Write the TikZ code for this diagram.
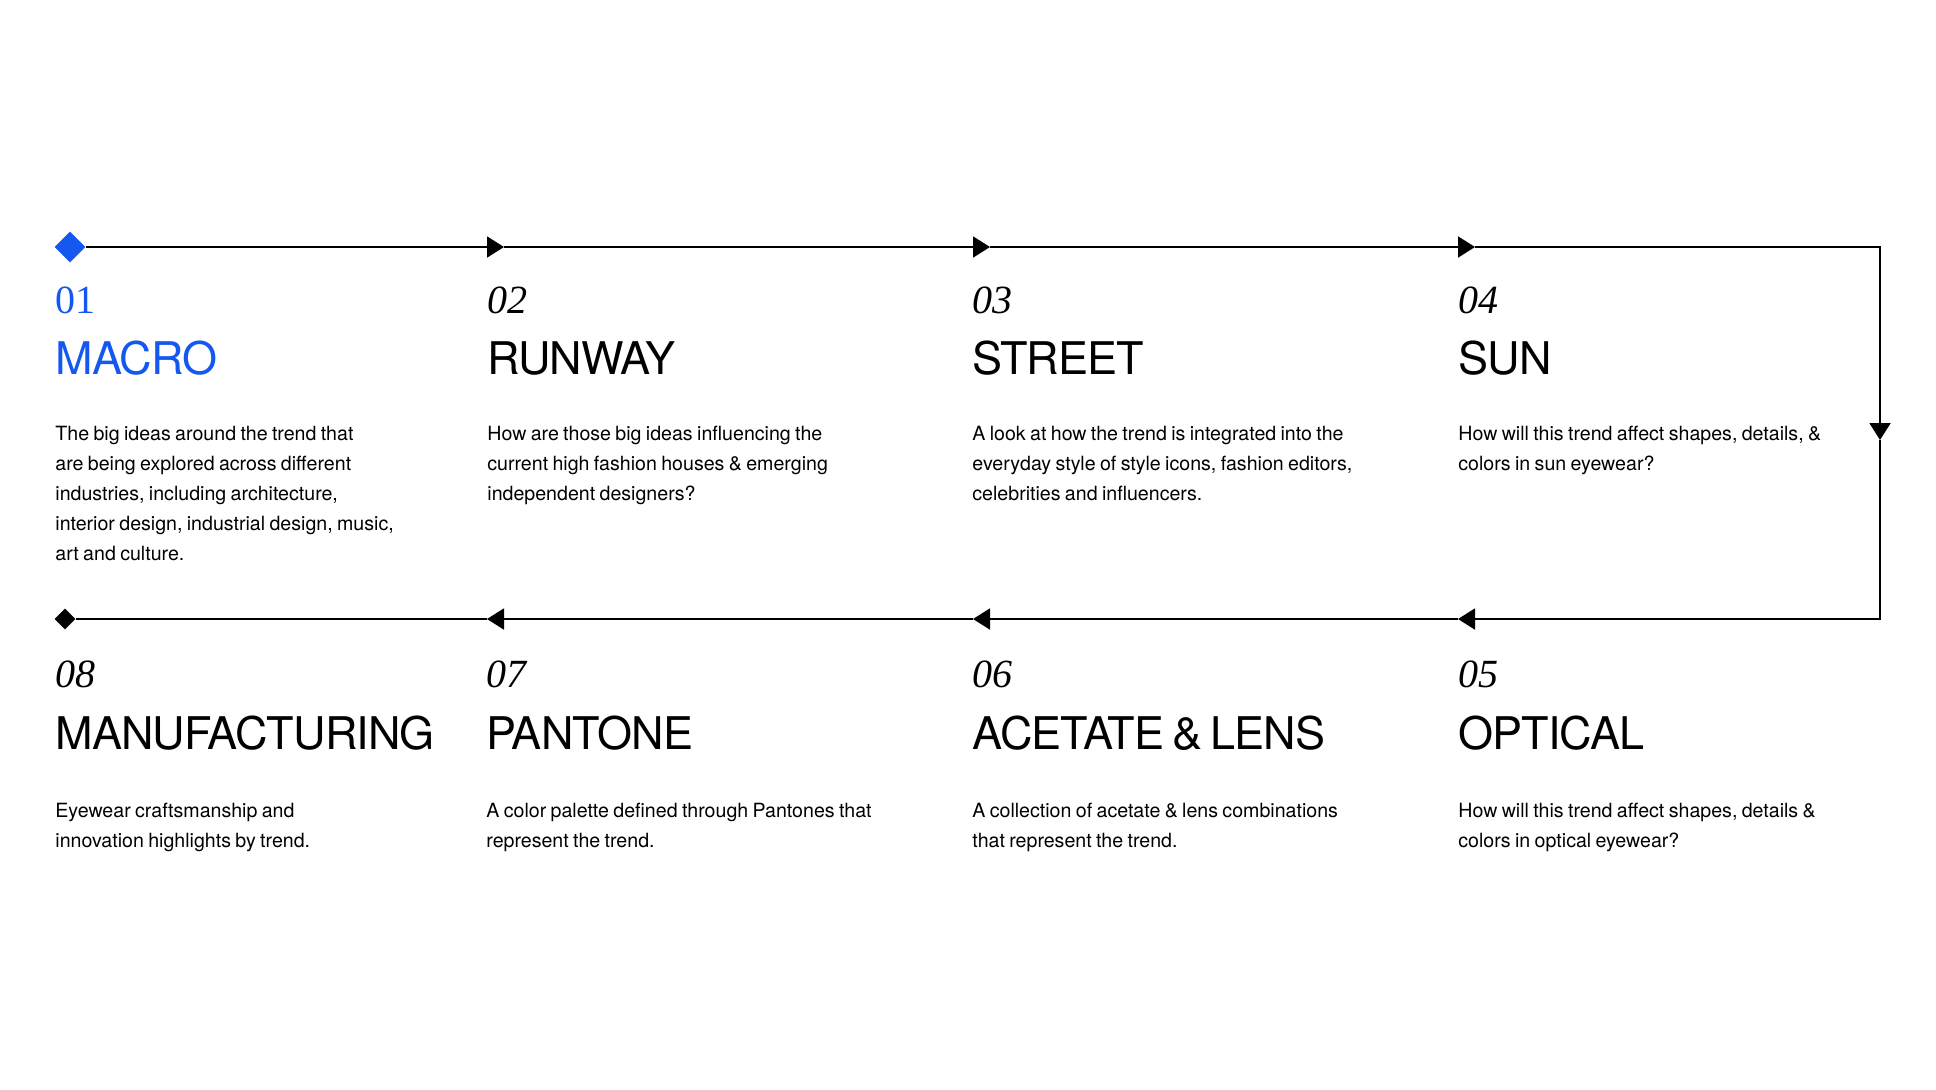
\documentclass[tikz,border=0pt]{standalone}
\usepackage{fontspec}
\setsansfont{TeX Gyre Heros}
\newfontfamily\numfont{Liberation Serif}
\newfontfamily\titlefont{TeX Gyre Heros}[LetterSpace=-2,WordSpace=0.7]
\newfontfamily\bodyfont{TeX Gyre Heros}[WordSpace=0.8]
\usetikzlibrary{arrows.meta,shapes.geometric}
\definecolor{macroblue}{RGB}{20,88,240}

\begin{document}
\begin{tikzpicture}[x=0.5pt,y=-0.5pt,>={Triangle[length=8.5pt,width=10.5pt]},
  flow/.style={line width=0.9pt,->},
  num/.style={anchor=base west,inner sep=0pt,font=\numfont\fontsize{20}{20}\selectfont\itshape},
  title/.style={anchor=base west,inner sep=0pt,font=\titlefont\fontsize{22.5}{22.5}\selectfont},
  body/.style={anchor=base west,inner sep=0pt,font=\bodyfont\fontsize{9.8}{15}\selectfont}]
   \useasboundingbox (0,0) rectangle (1936,1089);

   % 流れの線
   \node[diamond,aspect=1,fill=macroblue,inner sep=0pt,minimum size=15.5pt] (start) at (70,247) {};
   \node[diamond,aspect=1,fill=black,inner sep=0pt,minimum size=10.5pt] (end) at (65,619) {};
   \coordinate (a2) at (504,247);
   \coordinate (a3) at (990,247);
   \coordinate (a4) at (1475,247);
   \coordinate (c1) at (1880,247);
   \coordinate (a5) at (1880,440);
   \coordinate (c2) at (1880,619);
   \coordinate (b4) at (1458,619);
   \coordinate (b3) at (973,619);
   \coordinate (b2) at (487,619);

   \draw[flow] (start) -- (a2);
   \draw[flow] (a2) -- (a3);
   \draw[flow] (a3) -- (a4);
   \draw[flow] (a4) -- (c1) -- (a5);
   \draw[flow] (a5) -- (c2) -- (b4);
   \draw[flow] (b4) -- (b3);
   \draw[flow] (b3) -- (b2);
   \draw[line width=0.9pt] (b2) -- (end);

   % 上の段
   \node[num,text=macroblue] (n1) at (55,313) {\upshape 01};
   \node[title,text=macroblue] (t1) at (55,374) {MACRO};
   \node[body] (d1) at (55,440) {\parbox[t]{200pt}{The big ideas around the trend that\\are being explored across different\\industries, including architecture,\\interior design, industrial design, music,\\art and culture.}};

   \node[num] (n2) at (487,313) {02};
   \node[title] (t2) at (487,374) {RUNWAY};
   \node[body] (d2) at (487,440) {\parbox[t]{200pt}{How are those big ideas influencing the\\current high fashion houses \& emerging\\independent designers?}};

   \node[num] (n3) at (972,313) {03};
   \node[title] (t3) at (972,374) {STREET};
   \node[body] (d3) at (972,440) {\parbox[t]{200pt}{A look at how the trend is integrated into the\\everyday style of style icons, fashion editors,\\celebrities and influencers.}};

   \node[num] (n4) at (1458,313) {04};
   \node[title] (t4) at (1458,374) {SUN};
   \node[body] (d4) at (1458,440) {\parbox[t]{200pt}{How will this trend affect shapes, details, \&\\colors in sun eyewear?}};

   % 下の段
   \node[num] (n5) at (1458,687) {05};
   \node[title] (t5) at (1458,749) {OPTICAL};
   \node[body] (d5) at (1458,817) {\parbox[t]{200pt}{How will this trend affect shapes, details \&\\colors in optical eyewear?}};

   \node[num] (n6) at (972,687) {06};
   \node[title] (t6) at (972,749) {ACETATE \& LENS};
   \node[body] (d6) at (972,817) {\parbox[t]{200pt}{A collection of acetate \& lens combinations\\that represent the trend.}};

   \node[num] (n7) at (486,687) {07};
   \node[title] (t7) at (486,749) {PANTONE};
   \node[body] (d7) at (486,817) {\parbox[t]{200pt}{A color palette defined through Pantones that\\represent the trend.}};

   \node[num] (n8) at (55,687) {08};
   \node[title] (t8) at (55,749) {MANUFACTURING};
   \node[body] (d8) at (55,817) {\parbox[t]{200pt}{Eyewear craftsmanship and\\innovation highlights by trend.}};

\end{tikzpicture}
\end{document}
